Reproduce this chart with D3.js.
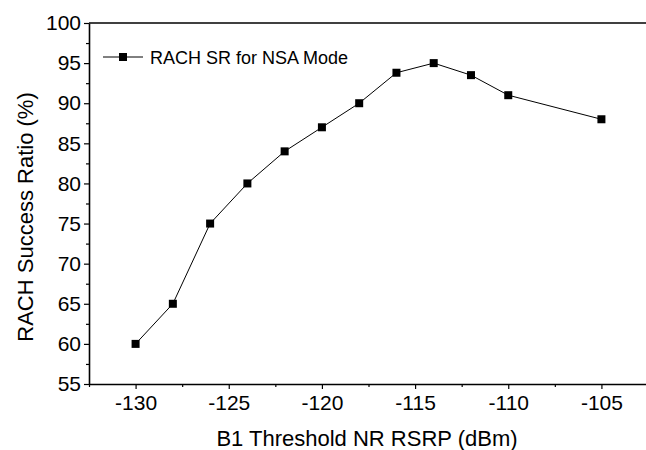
<!DOCTYPE html>
<html>
<head>
<meta charset="utf-8">
<script src="https://cdn.jsdelivr.net/npm/d3@7"></script>
<style>
  body { margin: 0; background: #fff; }
  svg { display: block; font-family: "Liberation Sans", Arial, sans-serif; }
</style>
</head>
<body>
<div id="chart"></div>
<script>
// data
const thresholds = [-130, -128, -126, -124, -122, -120, -118, -116, -114, -112, -110, -105];
const successRatio = [60, 65, 75, 80, 84, 87, 90, 93.8, 95, 93.5, 91, 88];
const xTicks = [-130, -125, -120, -115, -110, -105];
const yTicks = [55, 60, 65, 70, 75, 80, 85, 90, 95, 100];
const seriesName = 'RACH SR for NSA Mode';

const width = 646;
const height = 450;
const margin = { top: 23, right: -2, bottom: 66, left: 89 };

const svg = d3.select('#chart').append('svg')
    .attr('width', width)
    .attr('height', height);

const x = d3.scaleLinear()
    .domain([-132.5, -102.5])
    .range([margin.left, width - margin.right]);

const y = d3.scaleLinear()
    .domain([55, 100])
    .range([height - margin.bottom, margin.top]);

// minor ticks first
svg.append('g')
    .attr('transform', `translate(0,${height - margin.bottom})`)
    .call(d3.axisBottom(x).tickValues(d3.range(-132.5, -102, 5)).tickSize(3).tickFormat(''))
    .call(g => g.select('.domain').remove());

svg.append('g')
    .attr('transform', `translate(${margin.left},0)`)
    .call(d3.axisLeft(y).tickValues(d3.range(57.5, 100, 5)).tickSize(3).tickFormat(''))
    .call(g => g.select('.domain').remove());

// major axes (plain hyphen for negatives, like the original)
const xAxis = svg.append('g')
    .attr('transform', `translate(0,${height - margin.bottom})`)
    .call(d3.axisBottom(x).tickValues(xTicks).tickFormat(d => String(d))
        .tickSize(5).tickPadding(6).tickSizeOuter(0));

const yAxis = svg.append('g')
    .attr('transform', `translate(${margin.left},0)`)
    .call(d3.axisLeft(y).tickValues(yTicks).tickFormat(d => String(d))
        .tickSize(5).tickPadding(3).tickSizeOuter(0));

[xAxis, yAxis].forEach(g => {
    g.selectAll('text').attr('font-size', '21px').attr('fill', '#000')
        .attr('font-family', '"Liberation Sans", Arial, sans-serif');
    g.select('.domain').attr('stroke', '#000').attr('stroke-width', 1.6);
});
svg.selectAll('.tick line').attr('stroke', '#000').attr('stroke-width', 1.2);

// top frame line
svg.append('line')
    .attr('x1', margin.left)
    .attr('x2', width)
    .attr('y1', margin.top)
    .attr('y2', margin.top)
    .attr('stroke', '#000')
    .attr('stroke-width', 1.6);

// axis titles
svg.append('text')
    .attr('x', 367)
    .attr('y', 446)
    .attr('text-anchor', 'middle')
    .attr('font-size', '22px')
    .text('B1 Threshold NR RSRP (dBm)');

svg.append('text')
    .attr('transform', 'translate(33,217) rotate(-90)')
    .attr('text-anchor', 'middle')
    .attr('font-size', '22px')
    .text('RACH Success Ratio (%)');

// series
const points = thresholds.map((t, i) => ({ x: t, y: successRatio[i] }));

svg.append('path')
    .datum(points)
    .attr('fill', 'none')
    .attr('stroke', '#000')
    .attr('stroke-width', 1)
    .attr('d', d3.line().x(d => x(d.x)).y(d => y(d.y)));

const size = 8;
svg.append('g')
    .selectAll('rect')
    .data(points)
    .enter()
    .append('rect')
    .attr('x', d => x(d.x) - size / 2)
    .attr('y', d => y(d.y) - size / 2)
    .attr('width', size)
    .attr('height', size)
    .attr('fill', '#000');

// legend
const legend = svg.append('g').attr('transform', 'translate(103,57)');
legend.append('line')
    .attr('x1', 0).attr('x2', 40)
    .attr('stroke', '#000').attr('stroke-width', 1);
legend.append('rect')
    .attr('x', 20 - size / 2).attr('y', -size / 2)
    .attr('width', size).attr('height', size)
    .attr('fill', '#000');
legend.append('text')
    .attr('x', 47)
    .attr('y', 7)
    .attr('font-size', '18px')
    .text(seriesName);
</script>
</body>
</html>
